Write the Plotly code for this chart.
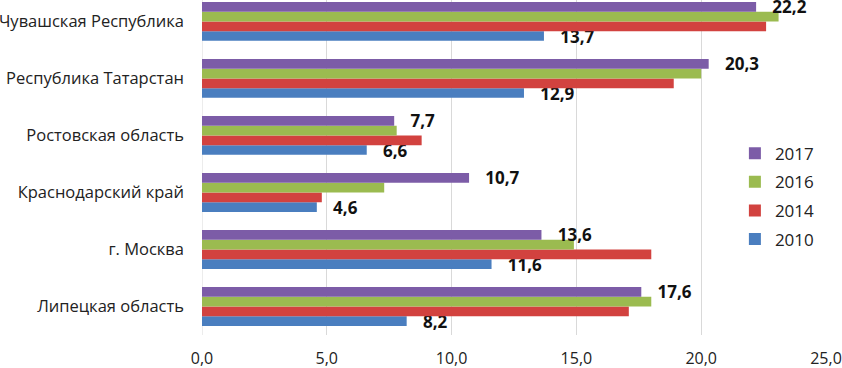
import plotly.graph_objects as go

categories = ["Липецкая область", "г. Москва", "Краснодарский край",
              "Ростовская область", "Республика Татарстан", "Чувашская Республика"]
years = ["2010", "2014", "2016", "2017"]
v2010 = [8.2, 11.6, 4.6, 6.6, 12.9, 13.7]
v2014 = [17.1, 18.0, 4.8, 8.8, 18.9, 22.6]
v2016 = [18.0, 14.9, 7.3, 7.8, 20.0, 23.1]
v2017 = [17.6, 13.6, 10.7, 7.7, 20.3, 22.2]
series = [v2010, v2014, v2016, v2017]
colors = ["#4A7EBF", "#D2423F", "#9BBB50", "#7C5CA7"]
labelled = {"2010", "2017"}
tick_vals = [0, 5, 10, 15, 20, 25]
tick_text = ["0,0", "5,0", "10,0", "15,0", "20,0", "25,0"]

font_family = "Open Sans, Noto Sans, DejaVu Sans, sans-serif"

fig = go.Figure()
for i, (yr, vals, col) in enumerate(zip(years, series, colors)):
    txt = ["   " + f"{v:.1f}".replace(".", ",") for v in vals] if yr in labelled else None
    fig.add_trace(go.Bar(
        y=categories, x=vals, name=yr, orientation="h",
        marker=dict(color=col, line=dict(width=0)),
        text=txt, textposition="outside" if txt else "none",
        textfont=dict(family=font_family, size=17, color="#111111", weight="bold"),
        constraintext="none", cliponaxis=False,
        legendgroup=yr, legendrank=len(years) - i,
    ))

fig.update_layout(
    width=842, height=368,
    margin=dict(l=202, r=16, t=0, b=33, autoexpand=False),
    barmode="group", bargap=0.32, bargroupgap=0,
    plot_bgcolor="white", paper_bgcolor="white",
    font=dict(family=font_family, size=16, color="#222222"),
    showlegend=True,
    legend=dict(x=0.854, y=0.595, xanchor="left", yanchor="top",
                traceorder="grouped", tracegroupgap=3.5, itemwidth=30,
                font=dict(size=17), bgcolor="rgba(0,0,0,0)"),
    xaxis=dict(range=[0, 25], tickvals=tick_vals, ticktext=tick_text,
               showgrid=True, gridcolor="#D9D9D9", gridwidth=1,
               zeroline=False, showline=False, ticks="", automargin=False,
               tickfont=dict(size=16), ticklabelstandoff=12),
    yaxis=dict(range=[-0.5, 5.377], showgrid=False, zeroline=False,
               showline=False, ticks="", automargin=False,
               tickfont=dict(size=16.5), ticklabelstandoff=17),
)
fig.add_shape(type="line", xref="x", yref="paper", x0=0, x1=0, y0=0, y1=1,
              line=dict(color="#D9D9D9", width=1), layer="below")

fig.write_html("out.html",
               config={"displayModeBar": False},
               post_script="document.body.style.margin='0px';document.body.style.overflow='hidden';")
